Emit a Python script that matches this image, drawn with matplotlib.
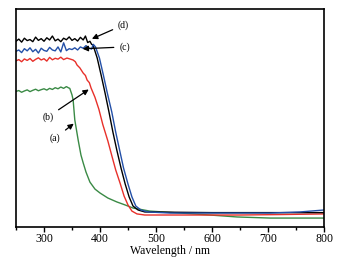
import numpy as np
import matplotlib.pyplot as plt

plt.rcParams['font.family'] = ['Liberation Serif', 'DejaVu Serif']

# (a) green
wl_a = [250, 255, 260, 265, 270, 275, 280, 285, 290, 295, 300, 305, 310, 315, 320,
        325, 330, 335, 340, 344, 346, 350, 352, 355, 361, 366, 370, 375, 382, 391,
        400, 414, 430, 445, 459, 489, 543, 596, 645, 704, 800]
abs_a = [0.622, 0.626, 0.618, 0.624, 0.629, 0.621, 0.627, 0.632, 0.625, 0.630, 0.634, 0.628,
         0.636, 0.631, 0.639, 0.634, 0.642, 0.636, 0.644, 0.638, 0.636, 0.606, 0.583, 0.491,
         0.399, 0.330, 0.294, 0.252, 0.206, 0.174, 0.156, 0.133, 0.115, 0.101, 0.087, 0.073,
         0.064, 0.055, 0.046, 0.041, 0.041]

# (b) red
wl_b = [250, 255, 260, 265, 270, 275, 280, 285, 290, 295, 300, 305, 310, 315, 320,
        325, 330, 335, 341, 346, 352, 356, 359, 364, 370, 374, 377, 381, 384, 391,
        398, 405, 414, 421, 428, 436, 443, 450, 457, 466, 480, 550, 650, 720, 800]
abs_b = [0.762, 0.768, 0.758, 0.771, 0.764, 0.773, 0.760, 0.769, 0.776, 0.766, 0.772, 0.761,
         0.778, 0.767, 0.774, 0.770, 0.779, 0.768, 0.775, 0.771, 0.766, 0.758, 0.743, 0.730,
         0.706, 0.695, 0.674, 0.662, 0.638, 0.595, 0.540, 0.470, 0.395, 0.328, 0.262, 0.200,
         0.142, 0.101, 0.073, 0.060, 0.055, 0.055, 0.055, 0.057, 0.060]

# (c) blue
wl_c = [250, 255, 260, 265, 270, 275, 280, 285, 290, 295, 300, 305, 310, 315, 320,
        325, 330, 335, 340, 345, 350, 355, 360, 365, 370, 375, 380, 385, 388, 392,
        399, 406, 413, 421, 428, 435, 442, 450, 457, 464, 473, 486, 525, 645,
        704, 757, 800]
abs_c = [0.806, 0.812, 0.800, 0.818, 0.808, 0.822, 0.804, 0.815, 0.798, 0.820, 0.810, 0.806,
         0.824, 0.812, 0.808, 0.826, 0.803, 0.845, 0.809, 0.818, 0.814, 0.822, 0.812, 0.826,
         0.820, 0.832, 0.822, 0.816, 0.838, 0.826, 0.775, 0.697, 0.615, 0.528, 0.436, 0.353,
         0.271, 0.197, 0.138, 0.096, 0.078, 0.069, 0.064, 0.064, 0.064, 0.069, 0.078]

# (d) black
wl_d = [250, 255, 260, 265, 270, 275, 280, 285, 290, 295, 300, 305, 310, 315, 320,
        325, 330, 335, 340, 345, 350, 355, 360, 365, 370, 374, 378, 382, 385, 387.5,
        395, 402, 409, 416, 423, 430, 437.5, 445, 452, 459, 468, 480, 600, 800]
abs_d = [0.852, 0.862, 0.848, 0.866, 0.855, 0.860, 0.850, 0.871, 0.856, 0.864, 0.852, 0.868,
         0.858, 0.876, 0.854, 0.862, 0.850, 0.866, 0.859, 0.872, 0.856, 0.864, 0.853, 0.870,
         0.858, 0.876, 0.846, 0.852, 0.838, 0.835, 0.775, 0.697, 0.615, 0.528, 0.436, 0.353,
         0.271, 0.197, 0.138, 0.096, 0.078, 0.069, 0.066, 0.066]

fig = plt.figure(figsize=(3.49, 2.61), dpi=100)
ax = fig.add_axes([16 / 349, 34 / 261, 308 / 349, 218 / 261])

ax.plot(wl_a, abs_a, color='#3a8a45', lw=1)
ax.plot(wl_b, abs_b, color='#e8302a', lw=1)
ax.plot(wl_d, abs_d, color='black', lw=1)
ax.plot(wl_c, abs_c, color='#2350a8', lw=1)

ax.set_xlim(250, 800)
ax.set_ylim(0, 1)
ax.set_xticks([300, 400, 500, 600, 700, 800])
ax.set_xticks(np.arange(250, 801, 50), minor=True)
ax.set_yticks([])
ax.tick_params(axis='x', which='major', direction='out', length=3.5, width=1, labelsize=8.5, pad=1)
ax.tick_params(axis='x', which='minor', direction='out', length=2.5, width=1)
for s in ax.spines.values():
    s.set_linewidth(1.2)
ax.set_xlabel('Wavelength / nm', fontsize=8.5, labelpad=0)

arr = dict(arrowstyle='-|>', color='black', lw=0.9, mutation_scale=8)
ax.annotate('(d)', xy=(381, 0.858), xytext=(442, 0.927), fontsize=7, ha='center', va='center', arrowprops=arr)
ax.annotate('(c)', xy=(364, 0.817), xytext=(444, 0.826), fontsize=7, ha='center', va='center', arrowprops=arr)
ax.annotate('(b)', xy=(384, 0.638), xytext=(307, 0.505), fontsize=7, ha='center', va='center', arrowprops=arr)
ax.annotate('(a)', xy=(357, 0.482), xytext=(320, 0.408), fontsize=7, ha='center', va='center', arrowprops=arr)

fig.savefig('out.png', dpi=100)
